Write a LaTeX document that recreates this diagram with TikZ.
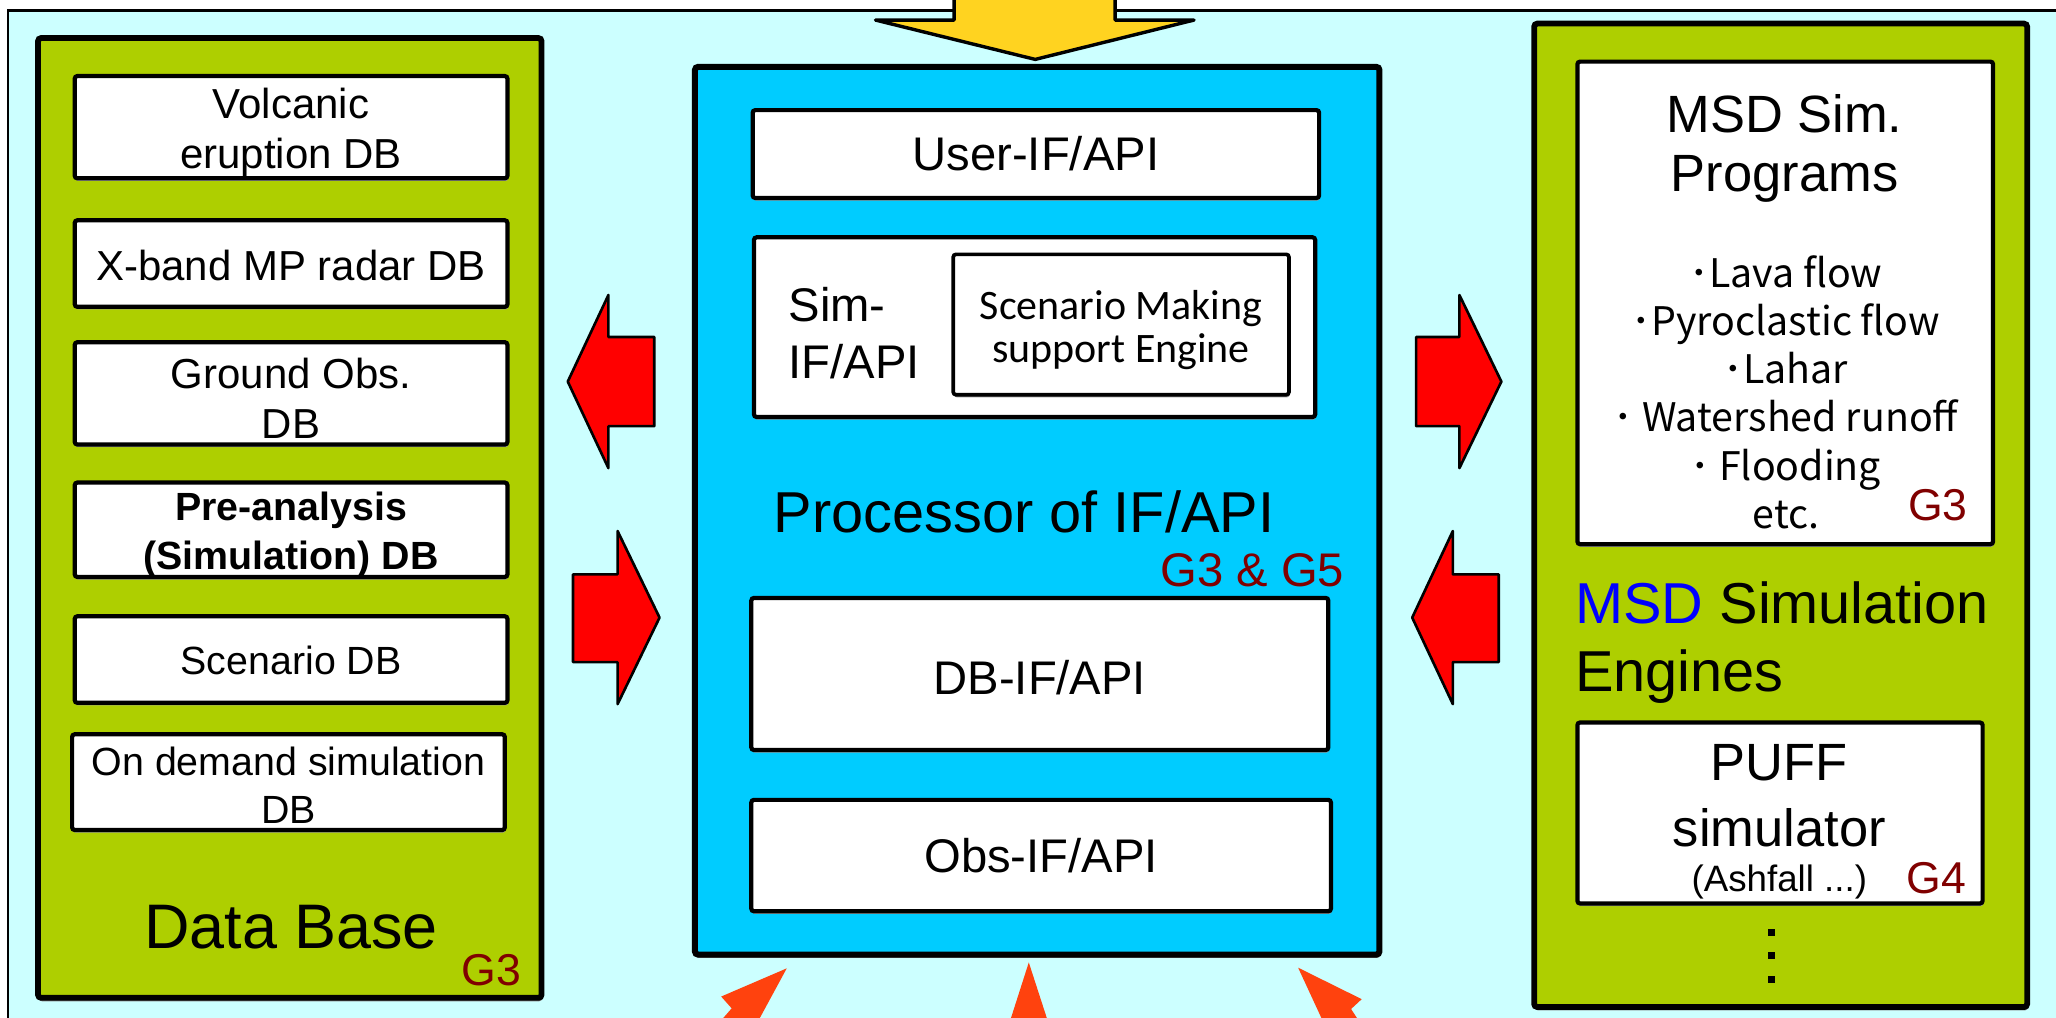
\documentclass[tikz,border=0pt]{standalone}
\usepackage{fontspec}
\setmainfont{Liberation Sans}
\newfontfamily\cjkfont{Noto Sans CJK JP}
\newfontfamily\calfont{Carlito}
\usetikzlibrary{shadows}
\definecolor{bgcyan}{HTML}{CCFFFF}
\definecolor{dbgreen}{HTML}{AECF00}
\definecolor{procblue}{HTML}{00CCFF}
\definecolor{arrowyellow}{HTML}{FFD320}
\definecolor{arroworange}{HTML}{FF420E}
\definecolor{gred}{HTML}{800000}
\definecolor{msdblue}{HTML}{0000FF}
\tikzset{
  panel/.style={draw=black, line width=2.2pt, rounded corners=1.2pt, inner sep=0pt,
    drop shadow={shadow xshift=0.3pt, shadow yshift=-1.3pt, fill=black!50, opacity=1}},
  whitebox/.style={draw=black, line width=1.6pt, fill=white, rounded corners=1pt, inner sep=0pt, align=center,
    drop shadow={shadow xshift=0.3pt, shadow yshift=-1pt, fill=black!40, opacity=1}},
  dbbox/.style={whitebox, minimum width=165pt},
  dbtext/.style={plain, font=\fontsize{16pt}{19pt}\selectfont},
  ifbox/.style={whitebox},
  iftext/.style={plain, font=\fontsize{18pt}{21.5pt}\selectfont},
  gtag/.style={text=gred, inner sep=0pt, font=\fontsize{17pt}{20pt}\selectfont},
  plain/.style={inner sep=0pt, align=center},
  redarrow/.style={fill=red, draw=black, line width=1pt, line join=round},
  orangearrow/.style={fill=arroworange},
  yellowarrow/.style={fill=arrowyellow, draw=black, line width=1.3pt, line join=round},
}
\begin{document}
\begin{tikzpicture}[x=0.5pt, y=-0.5pt]
\useasboundingbox (0,0) rectangle (1568,776);
\clip (0,0) rectangle (1568,776);
\fill[white] (0,0) rectangle (1568,776);
\draw[fill=bgcyan, line width=0.9pt] (6,8) rectangle (1620,820);

% ---------- Left: Data Base ----------
\node[panel, fill=dbgreen, minimum width=192pt, minimum height=366pt] (db) at (221,395) {};
\node[dbbox, minimum height=39pt] (volc) at (222,97) {};
\node[dbtext] (volct) at ([yshift=-2pt]volc.center) {Volcanic\\eruption DB};
\node[dbbox, minimum height=33pt] (xband) at (222,201) {};
\node[dbtext] (xbandt) at ([yshift=-0.8pt]xband.center) {X-band MP radar DB};
\node[dbbox, minimum height=39pt] (ground) at (222,300) {};
\node[dbtext] (groundt) at ([yshift=-2pt]ground.center) {Ground Obs.\\DB};
\node[dbbox, minimum height=36pt] (pre) at (222,404) {};
\node[dbtext, font=\fontsize{15pt}{18.5pt}\selectfont\bfseries] (pret) at ([yshift=-2pt]pre.center) {Pre-analysis\\(Simulation) DB};
\node[dbbox, minimum height=33pt] (scen) at (222,503) {};
\node[dbtext, font=\fontsize{15pt}{18pt}\selectfont] (scent) at ([yshift=-0.5pt]scen.center) {Scenario DB};
\node[dbbox, minimum height=36.5pt] (ondemand) at (220,596.5) {};
\node[dbtext, font=\fontsize{15pt}{18.5pt}\selectfont] (ondemandt) at ([yshift=-1.2pt]ondemand.center) {On demand simulation\\DB};
\node[plain, font=\fontsize{24pt}{28pt}\selectfont] (dblabel) at (222,707) {Data Base};
\node[gtag] (dbg) at (375,740) {G3};

% ---------- Middle: Processor ----------
\node[panel, fill=procblue, line width=2.3pt, minimum width=261pt, minimum height=338.5pt] (proc) at (791,389.5) {};
\node[ifbox, minimum width=216pt, minimum height=33.5pt] (user) at (790,117.5) {};
\node[iftext] (usert) at (user.center) {User-IF/API};
\node[whitebox, minimum width=214pt, minimum height=68.5pt] (sim) at (789,249.5) {};
\node[plain, anchor=west, align=left, font=\fontsize{18pt}{21.5pt}\selectfont] (simlabel) at (601,254) {Sim-\\IF/API};
\node[whitebox, line width=1.4pt, minimum width=128pt, minimum height=53.5pt] (engine) at (855,247.5) {};
\node[plain, font=\calfont\fontsize{16pt}{16.5pt}\selectfont] (enginet) at ([yshift=-2.2pt]engine.center) {Scenario Making\\support Engine};
\node[plain, font=\fontsize{22pt}{26pt}\selectfont] (proclabel) at (781,390) {Processor of IF/API};
\node[gtag, font=\fontsize{18pt}{21pt}\selectfont] (procg) at (955,435) {G3 \& G5};
\node[ifbox, minimum width=220pt, minimum height=58pt] (dbif) at (793,514) {};
\node[iftext] (dbift) at ([yshift=-1.4pt]dbif.center) {DB-IF/API};
\node[ifbox, minimum width=221pt, minimum height=42.5pt] (obsif) at (794,652.5) {};
\node[iftext] (obsift) at (obsif.center) {Obs-IF/API};

% ---------- Right: MSD Simulation Engines ----------
\node[panel, fill=dbgreen, minimum width=188pt, minimum height=375pt] (msd) at (1358,393) {};
\node[whitebox, minimum width=158.5pt, minimum height=184pt] (prog) at (1361.5,231) {};
\node[plain, font=\fontsize{20pt}{22.5pt}\selectfont] (progtitle) at (1361,113.5) {MSD Sim.\\Programs};
\node[plain, font=\cjkfont\fontsize{15pt}{18.4pt}\selectfont] (proglist) at (1362,299)
  {･Lava flow\\･Pyroclastic flow\\･Lahar\\･ Watershed runoff\\･ Flooding\\etc.};
\node[gtag] (progg) at (1478,385) {G3};
\node[plain, anchor=west, align=left, font=\fontsize{22pt}{26pt}\selectfont] (msdlabel) at (1201,490)
  {\textcolor{msdblue}{MSD} Simulation\\Engines};
\node[whitebox, minimum width=154.5pt, minimum height=69pt] (puff) at (1357.5,620) {};
\node[plain, font=\fontsize{20pt}{24pt}\selectfont] (pufft) at (1357,582) {PUFF};
\node[plain, font=\fontsize{20pt}{24pt}\selectfont] (puffs) at (1357,631) {simulator};
\node[plain, font=\fontsize{14pt}{17pt}\selectfont] (ash) at (1357,673) {(Ashfall ...)};
\node[gtag] (puffg) at (1477,670) {G4};
\foreach \yy in {711,729,747} \fill (1351,\yy) +(-2.7,-2.7) rectangle +(2.7,2.7);

% ---------- Arrows ----------
\draw[yellowarrow] (727.6,-10) -- (727.6,15.3) -- (667.7,15.3) -- (789.5,45.3) -- (910.6,15.3) -- (850.4,15.3) -- (850.4,-10);
% left side
\draw[redarrow] (433,291) -- (464,225) -- (464,257) -- (499,257) -- (499,325) -- (464,325) -- (464,357) -- cycle;
\draw[redarrow] (503,471) -- (471,405) -- (471,438) -- (437,438) -- (437,505) -- (471,505) -- (471,537) -- cycle;
% right side
\draw[redarrow] (1145,291) -- (1113,225) -- (1113,257) -- (1080,257) -- (1080,325) -- (1113,325) -- (1113,357) -- cycle;
\draw[redarrow] (1077,471) -- (1108,405) -- (1108,438) -- (1143,438) -- (1143,505) -- (1108,505) -- (1108,537) -- cycle;
% bottom
\fill[orangearrow] (600,738.5) -- (550,760) -- (558,769) -- (538,792) -- (571,792) -- cycle;
\fill[orangearrow] (784.6,734) -- (766,792) -- (803.4,792) -- cycle;
\fill[orangearrow] (990,738) -- (1038.5,762) -- (1030.4,769.5) -- (1045,792) -- (1015,792) -- cycle;
\end{tikzpicture}
\end{document}
